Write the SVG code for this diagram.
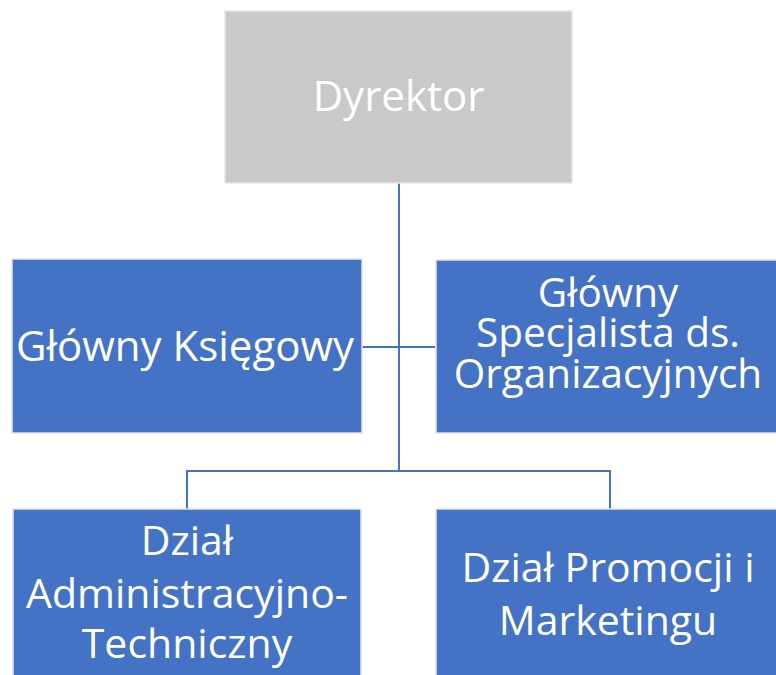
<svg xmlns="http://www.w3.org/2000/svg" width="776" height="675" viewBox="0 0 776 675">
<style>
.box{fill:#4472C4;stroke:#E3E3E3;stroke-width:1.5}
.top{fill:#C9C9C9;stroke:#E6E6E6;stroke-width:1.5}
.t{font-family:"Open Sans","Noto Sans",sans-serif;font-size:41px;fill:#FFFFFF;text-anchor:middle}
.c{fill:none;stroke:#4472C4;stroke-width:2}
</style>
<rect width="776" height="675" fill="#FFFFFF"/>
<g id="connectors">
<path class="c" d="M399,183 V471"/>
<path class="c" d="M362,347 H435"/>
<path class="c" d="M187,509 V471 H610 V509"/>
</g>
<g id="dyrektor">
<rect class="top" x="225" y="11" width="347" height="172"/>
<text class="t" x="398.5" y="111" style="font-size:42px">Dyrektor</text>
</g>
<g id="glowny-ksiegowy">
<rect class="box" x="12" y="259" width="350" height="174"/>
<text class="t" x="185" y="361" style="font-size:42px">Główny Księgowy</text>
</g>
<g id="glowny-specjalista">
<rect class="box" x="436" y="260" width="342" height="173"/>
<text class="t" x="608" y="307" style="font-size:40.5px">Główny</text>
<text class="t" x="608" y="347" style="font-size:40.5px">Specjalista ds.</text>
<text class="t" x="608" y="388" style="font-size:40.5px">Organizacyjnych</text>
</g>
<g id="dzial-admin">
<rect class="box" x="13" y="509" width="348" height="170"/>
<text class="t" x="187" y="555">Dział</text>
<text class="t" x="187" y="608">Administracyjno-</text>
<text class="t" x="187" y="658">Techniczny</text>
</g>
<g id="dzial-promocji">
<rect class="box" x="436" y="509" width="342" height="170"/>
<text class="t" x="608" y="582">Dział Promocji i</text>
<text class="t" x="608" y="635">Marketingu</text>
</g>
</svg>
